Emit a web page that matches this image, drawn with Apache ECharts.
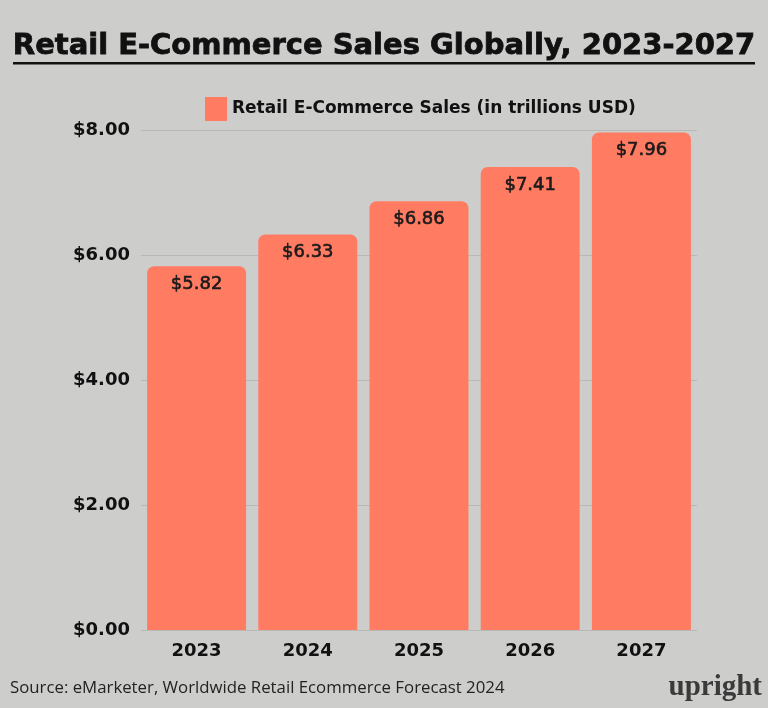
<!DOCTYPE html>
<html>
<head>
<meta charset="utf-8">
<script src="https://cdn.jsdelivr.net/npm/echarts@6/dist/echarts.min.js"></script>
<style>
html,body{margin:0;padding:0;background:#cdcecc;}
#chart{width:768px;height:708px;}
</style>
</head>
<body>
<div id="chart"></div>
<script>
const categories = ['2023', '2024', '2025', '2026', '2027'];
const salesValues = [5.82, 6.33, 6.86, 7.41, 7.96];
const seriesName = 'Retail E-Commerce Sales (in trillions USD)';
const titleText = 'Retail E-Commerce Sales Globally, 2023-2027';
const sourceText = 'Source: eMarketer, Worldwide Retail Ecommerce Forecast 2024';
const yTicks = { min: 0, max: 8, interval: 2 };

const chart = echarts.init(document.getElementById('chart'), null, { renderer: 'canvas' });
const option = {
  backgroundColor: '#cdcecc',
  title: {
    text: titleText,
    left: 'center',
    top: 27,
    textStyle: { fontFamily: 'DejaVu Sans', fontWeight: 'bold', fontSize: 29, color: '#111',
      textBorderColor: '#111', textBorderWidth: 0.8 }
  },
  graphic: [
    { type: 'rect', shape: { x: 13, y: 62, width: 742, height: 2.5 }, style: { fill: '#111' } },
    { type: 'text', left: 10, top: 680, style: { text: sourceText, font: '16.8px "Open Sans"', fill: '#222' } },
    { type: 'text', right: 6, top: 673, style: { text: 'upright', font: 'bold 29px "Liberation Serif"', fill: '#3a3a3a' } }
  ],
  legend: {
    data: [seriesName],
    top: 92,
    left: 200,
    icon: 'rect',
    itemWidth: 22,
    itemHeight: 24,
    itemGap: 8,
    textStyle: { fontFamily: 'DejaVu Sans', fontWeight: 'bold', fontSize: 17, color: '#111' }
  },
  grid: { left: 141, right: 71, top: 130, bottom: 78, containLabel: false },
  xAxis: {
    type: 'category',
    data: categories,
    axisLine: { show: false },
    axisTick: { show: false },
    axisLabel: { margin: 12, fontFamily: 'DejaVu Sans', fontWeight: 'bold', fontSize: 18, color: '#111' }
  },
  yAxis: {
    type: 'value',
    min: yTicks.min,
    max: yTicks.max,
    interval: yTicks.interval,
    axisLabel: {
      margin: 11,
      fontFamily: 'DejaVu Sans', fontWeight: 'bold', fontSize: 18, color: '#111',
      formatter: v => '$' + v.toFixed(2)
    },
    splitLine: { lineStyle: { color: '#b8b9b7', width: 1 } }
  },
  series: [{
    name: seriesName,
    type: 'bar',
    data: salesValues,
    barCategoryGap: '11%',
    itemStyle: { color: '#ff7b62', borderRadius: [7, 7, 0, 0] },
    label: {
      show: true,
      position: 'insideTop',
      distance: 9,
      fontFamily: 'DejaVu Sans', fontSize: 18, color: '#1a1a1a',
      textBorderColor: '#1a1a1a', textBorderWidth: 0.6,
      formatter: p => '$' + p.value.toFixed(2)
    }
  }],
  animation: false
};
chart.setOption(option);
</script>
</body>
</html>
